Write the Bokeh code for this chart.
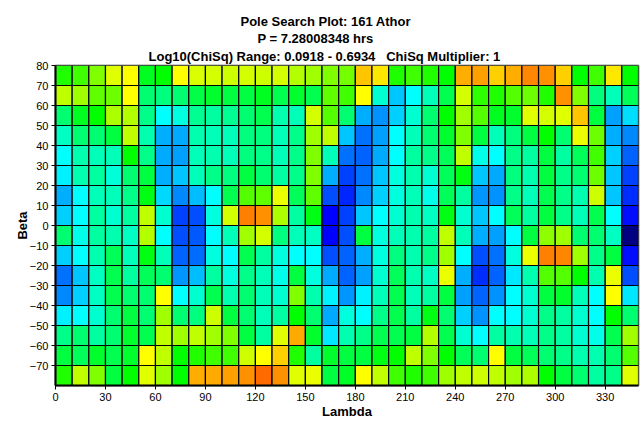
import numpy as np
from bokeh.plotting import figure
from bokeh.models import ColumnDataSource, LinearColorMapper, FixedTicker, Title, Range1d
from bokeh.embed import file_html
from bokeh.resources import INLINE

# lower edges of the 10-degree cells
lambda_lo = list(range(0, 350, 10))          # 35 columns
beta_lo = list(range(70, -90, -10))          # 16 rows, top to bottom

# colour level read per cell (0 = darkest blue ... 19 = red-orange), rows top->bottom
levels = [
    [11.5, 12, 13, 14.5, 15, 10.5, 11, 15, 14.4, 14.3, 14.2, 14.3, 14.2, 14.3, 13.8, 13.5, 13, 12.8, 16.2, 15.5, 11.5, 12, 11.5, 11, 16.7, 17, 16, 16.7, 17.8, 17.5, 16, 11, 12, 15.5, 11],
    [14, 13.5, 12.5, 12.7, 15, 9, 8.7, 9, 9.9, 10.3, 10, 10, 10.5, 9.7, 10.3, 9.7, 12.5, 12, 15, 7, 4.8, 6, 7.5, 9.7, 14.3, 11.7, 11.5, 12.3, 12.7, 11.5, 17.5, 13, 8.7, 7.5, 9.5],
    [9, 10.5, 11, 13.7, 13.8, 8.5, 6, 6.7, 8.3, 8, 8.3, 9, 9.7, 7.7, 7.5, 14.3, 12.3, 9, 4.3, 3.7, 5, 7, 9, 11, 13.5, 12.3, 10.5, 10.3, 14.5, 14.3, 14.5, 16.2, 10, 4, 5.3],
    [7.3, 9, 9, 10, 14, 7.7, 4.3, 4.2, 7.7, 7.5, 7.5, 8.7, 8.7, 7.5, 8.5, 13.5, 14, 4.8, 3, 4, 6, 7.5, 9, 10.3, 13, 10, 7.5, 8.7, 10, 11, 9, 14.7, 12.7, 4.3, 3.5],
    [6, 7.7, 7.5, 7.5, 11, 8.5, 4.2, 4, 7.5, 7.7, 7.5, 8.7, 8.5, 7.5, 8.5, 13, 7.5, 3, 2.7, 4.2, 6, 8, 8.5, 9.5, 14, 6.5, 6, 8.5, 8, 10, 8, 9.5, 12, 5, 2.7],
    [5.7, 7.7, 8, 6.8, 9, 10, 4.3, 4.8, 7.5, 8.5, 8.7, 10, 9, 8, 8.5, 13, 4.3, 2, 3, 4.8, 6.7, 7.7, 7, 9.5, 10.7, 4.8, 4.2, 8.7, 7.7, 10, 8.5, 9, 12.7, 4.8, 2],
    [4.3, 6, 7.5, 7.5, 8.5, 10.7, 5.2, 3.5, 4.6, 6, 9.7, 12.3, 12.5, 14.7, 9.5, 12.5, 2.3, 1.6, 3.5, 5, 6.7, 7.5, 6.5, 9.5, 8, 3.8, 3.7, 8.5, 7.5, 9.7, 8.5, 7.7, 14.2, 4.8, 1.7],
    [5, 6, 8, 7, 8, 14, 7, 2, 2.3, 6.7, 14.3, 18, 17.5, 13.7, 8, 10.7, 1, 2, 4.8, 6, 7, 7.7, 7.3, 10.7, 7, 4.8, 6, 9.5, 8, 10, 8.5, 7.5, 9.7, 6, 1.2],
    [9, 6.5, 8, 7.7, 7.3, 13.8, 6, 2.3, 2.5, 6, 7.5, 13.5, 14.3, 8.7, 7.5, 7.3, 1, 2.3, 10, 6.7, 7.5, 7.7, 8, 14, 7.5, 4.3, 4, 6, 10, 13.2, 13.5, 9, 9, 7.3, 0],
    [5, 6, 7.7, 9.5, 7.5, 10.7, 7.5, 2.7, 2.9, 6.7, 6, 9.7, 8, 6.7, 6, 6, 2.3, 2.7, 4.3, 6.7, 8.7, 7.7, 8.5, 13.5, 6, 2.3, 3, 6.7, 14.7, 18, 17.8, 13.5, 8.5, 10, 1.2],
    [3, 4.8, 7.3, 9.7, 8, 9.5, 9, 3.8, 4.6, 8, 6.7, 8.5, 7.5, 6.5, 10, 6.7, 4.2, 2.7, 4, 7, 9.5, 7.7, 7.3, 14.7, 4.3, 1.7, 2.7, 5.5, 7.7, 12.3, 12.3, 11, 7.7, 14.7, 2.3],
    [3.5, 5, 7.3, 9.7, 9, 9, 15, 6, 7, 9.7, 7.7, 9, 7.5, 7, 13, 7.7, 5.7, 3.8, 5.7, 7.5, 9.7, 7.5, 8, 10, 4, 2.7, 3.7, 6, 7, 10, 10.3, 7.5, 6, 15, 5.5],
    [5.7, 6, 7, 9, 10, 9, 13.5, 9, 8.7, 14.2, 10, 9, 7.5, 8, 11, 9, 4.2, 6.7, 6, 8.5, 9.7, 8, 10.7, 9, 5, 3.7, 6, 6, 7, 8.5, 8, 7, 6, 11, 9],
    [8.5, 9, 8, 9, 10.3, 9.7, 14, 13.5, 14, 13.5, 13, 10, 8, 14.5, 16.8, 10.3, 5.5, 7.7, 8.5, 9.7, 9.7, 10, 13.8, 9.7, 7, 6, 8, 7.7, 7.5, 8.5, 8, 7, 6.5, 9.7, 13.5],
    [10, 9.5, 10.3, 9.7, 10.3, 15, 14, 11, 11.5, 12, 12, 14.2, 15, 16, 11.5, 8, 10.3, 10, 10, 10.7, 11, 14, 13, 11, 9.5, 9, 15, 10, 9.5, 9, 8.5, 7.7, 7.7, 9, 12.3],
    [11.5, 14, 13, 10, 11, 14.5, 13.5, 11, 16.7, 16.8, 17, 17.5, 18.7, 17.5, 14.5, 14.7, 10, 10.4, 15, 14, 12, 11.5, 12, 13.5, 14, 14.2, 14, 13.5, 13.7, 11, 10, 9, 8, 8.5, 14.5],
]

x_ticks = list(range(0, 331, 30))
y_ticks = list(range(-70, 81, 10))

title_lines = [
    "Pole Search Plot: 161 Athor",
    "P = 7.28008348 hrs",
    "Log10(ChiSq) Range: 0.0918 - 0.6934 \u00a0 ChiSq Multiplier: 1",
]
# left offsets (px from plot frame's left edge) that centre each title line on the page
title_offsets = [185, 202, 93]

# colour scale (style): dark blue -> blue -> cyan -> green -> yellow -> orange
anchors = ["#000080", "#0000ff", "#0040ff", "#0070ff", "#00a0ff", "#00d0ff", "#00ffff",
           "#00ffd0", "#00ffa0", "#00ff70", "#00ff40", "#00ff00", "#40ff00", "#80ff00",
           "#c0ff00", "#ffff00", "#ffd000", "#ffa000", "#ff8000", "#ff6000"]

def h2rgb(h):
    return np.array([int(h[1:3], 16), int(h[3:5], 16), int(h[5:7], 16)], dtype=float)

pal = []
steps = 10
for i in range(len(anchors) - 1):
    a, b = h2rgb(anchors[i]), h2rgb(anchors[i + 1])
    for k in range(steps):
        c = a + (b - a) * k / steps
        pal.append("#%02x%02x%02x" % tuple(int(round(v)) for v in c))
pal.append(anchors[-1])
mapper = LinearColorMapper(palette=pal, low=0, high=len(anchors) - 1)

L, R, B, T, V = [], [], [], [], []
for ri, b in enumerate(beta_lo):
    for ci, lam in enumerate(lambda_lo):
        L.append(lam); R.append(lam + 10)
        B.append(b); T.append(b + 10)
        V.append(levels[ri][ci])
src = ColumnDataSource(dict(l=L, r=R, b=B, t=T, v=V))

FONT = "Liberation Sans"

p = figure(width=644, height=424, output_backend="svg", toolbar_location=None,
           x_range=Range1d(0, 350), y_range=Range1d(-80, 80),
           min_border_left=55, min_border_right=6, min_border_top=65, min_border_bottom=39)

p.quad(left="l", right="r", bottom="b", top="t", source=src,
       fill_color={"field": "v", "transform": mapper},
       line_color="black", line_width=1.2)

n = len(title_lines)
for i in range(n - 1, -1, -1):
    p.add_layout(Title(text=title_lines[i], align="left", offset=title_offsets[i],
                       text_font=FONT, text_font_size="13px", text_font_style="bold",
                       text_color="black", text_line_height=0.86,
                       standoff=(3 if i == n - 1 else 0)), "above")

p.xgrid.visible = False
p.ygrid.visible = False
p.background_fill_color = "white"
p.border_fill_color = "white"
p.outline_line_color = "#999999"
p.outline_line_width = 2

p.xaxis.ticker = FixedTicker(ticks=x_ticks)
p.yaxis.ticker = FixedTicker(ticks=y_ticks)
p.xaxis.axis_label = "Lambda"
p.yaxis.axis_label = "Beta"
for ax in (p.xaxis, p.yaxis):
    ax.axis_line_width = 2
    ax.axis_line_color = "black"
    ax.major_tick_out = 4
    ax.major_tick_in = 0
    ax.minor_tick_out = 0
    ax.minor_tick_in = 0
    ax.major_tick_line_color = "black"
    ax.major_label_text_font = FONT
    ax.major_label_text_font_size = "11px"
    ax.major_label_text_color = "black"
    ax.major_label_standoff = 3
    ax.axis_label_text_font = FONT
    ax.axis_label_text_font_size = "13px"
    ax.axis_label_text_font_style = "bold"
    ax.axis_label_text_color = "black"
p.xaxis.major_label_standoff = 3
p.xaxis.axis_label_standoff = 0
p.yaxis.axis_label_standoff = -3

open("out.html", "w").write(file_html(p, INLINE))
